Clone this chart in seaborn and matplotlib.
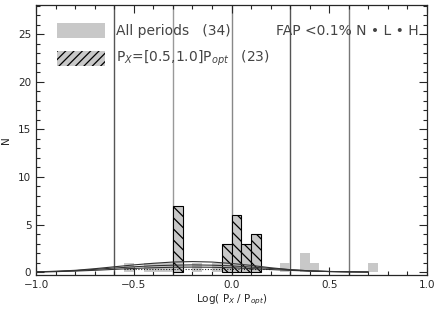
import numpy as np
import pandas as pd
import seaborn as sns
import matplotlib.pyplot as plt
from matplotlib.patches import Rectangle
from matplotlib.ticker import MultipleLocator

# histogram bins (left edges, width 0.05) and counts
all_left = [-0.55, -0.45, -0.40, -0.35, -0.30, -0.20, -0.10, -0.05, 0.00, 0.05, 0.10, 0.25, 0.35, 0.40, 0.70]
all_count = [1, 1, 1, 1, 7, 1, 1, 3, 6, 3, 4, 1, 2, 1, 1]
sel_left = [-0.30, -0.05, 0.00, 0.05, 0.10]
sel_count = [7, 3, 6, 3, 4]

# fitted curves
curve_x = [-1.0, -0.9, -0.8, -0.7, -0.6, -0.5, -0.4, -0.3, -0.2, -0.1, 0.0, 0.1, 0.2, 0.3, 0.4, 0.5, 0.6, 0.7]
curve_a = [0.02, 0.08, 0.18, 0.35, 0.55, 0.75, 0.92, 1.05, 1.10, 1.05, 0.90, 0.70, 0.45, 0.25, 0.12, 0.05, 0.02, 0.0]
curve_b = [0.02, 0.06, 0.14, 0.28, 0.42, 0.55, 0.66, 0.72, 0.75, 0.72, 0.65, 0.52, 0.38, 0.24, 0.13, 0.06, 0.02, 0.0]
curve_c = [0.01, 0.04, 0.10, 0.18, 0.28, 0.38, 0.45, 0.50, 0.52, 0.50, 0.45, 0.36, 0.26, 0.17, 0.10, 0.05, 0.02, 0.0]
vlines = [-0.6, -0.3, 0.0, 0.3, 0.6]
vline_colors = ["#555555", "#999999", "#888888", "#555555", "#777777"]

BSLASH = chr(92)

sns.set_style("ticks")
plt.rcParams['font.family'] = ['DejaVu Sans']
plt.rcParams['hatch.linewidth'] = 0.9
plt.rcParams['hatch.color'] = 'black'

fig = plt.figure(figsize=(4.36, 3.12), dpi=100)
ax = fig.add_axes([0.083, 0.119, 0.896, 0.865])

df_all = pd.DataFrame({"x": np.array(all_left) + 0.025, "n": all_count})

sns.histplot(data=df_all, x="x", weights="n", binwidth=0.05, binrange=(-1.0, 1.0),
             color="#c8c8c8", alpha=1, edgecolor="none", linewidth=0, ax=ax)
# hatched subset on top
bars = ax.bar(sel_left, sel_count, width=0.05, align="edge", color="#c8c8c8",
              edgecolor="black", linewidth=0.8, zorder=2)
for b in bars:
    b.set_hatch(BSLASH * 3)

for c in [curve_a, curve_b, curve_c]:
    sns.lineplot(x=curve_x, y=c, color="#333333", linewidth=0.8, ax=ax, zorder=3)
sns.lineplot(x=[-0.55, 0.2], y=[0.3, 0.3], color="#222222", linewidth=0.8,
             linestyle=(0, (1, 1.5)), ax=ax, zorder=3)

for v, col in zip(vlines, vline_colors):
    ax.axvline(v, color=col, linewidth=1.0, zorder=0.5)

ax.set_xlim(-1.0, 1.0)
ax.set_ylim(-0.3, 28.1)
ax.xaxis.set_major_locator(MultipleLocator(0.5))
ax.xaxis.set_minor_locator(MultipleLocator(0.1))
ax.yaxis.set_major_locator(MultipleLocator(5))
ax.yaxis.set_minor_locator(MultipleLocator(1))
ax.tick_params(which="both", direction="in", top=True, right=True, labelsize=7.5, width=0.8)
ax.tick_params(which="major", length=6)
ax.tick_params(which="minor", length=3)
ax.xaxis.set_major_formatter(plt.FuncFormatter(lambda v, p: f"{v:.1f}".replace("-", "\u2212")))
ax.yaxis.set_major_formatter(plt.FuncFormatter(lambda v, p: f"{v:.0f}"))
for s in ax.spines.values():
    s.set_linewidth(0.9)

ax.set_xlabel("Log( P$_X$ / P$_{opt}$)", fontsize=7.5, labelpad=2)
ax.set_ylabel("N", fontsize=7.5, labelpad=5)

# legend drawn by hand
ax.add_patch(Rectangle((-0.895, 24.6), 0.245, 1.6, facecolor="#c8c8c8", edgecolor="none"))
ax.add_patch(Rectangle((-0.895, 21.7), 0.245, 1.6, facecolor="#c8c8c8", edgecolor="black",
                       hatch="////", linewidth=0))
ax.text(-0.59, 25.4, "All periods   (34)", fontsize=10, color="#444444", va="center")
ax.text(0.23, 25.4, "FAP <0.1% N \u2022 L \u2022 H", fontsize=10, color="#444444", va="center")
ax.text(-0.59, 22.5, "P$_X$=[0.5,1.0]P$_{opt}$   (23)", fontsize=10, color="#444444", va="center")

fig.savefig("out.png", dpi=100)
